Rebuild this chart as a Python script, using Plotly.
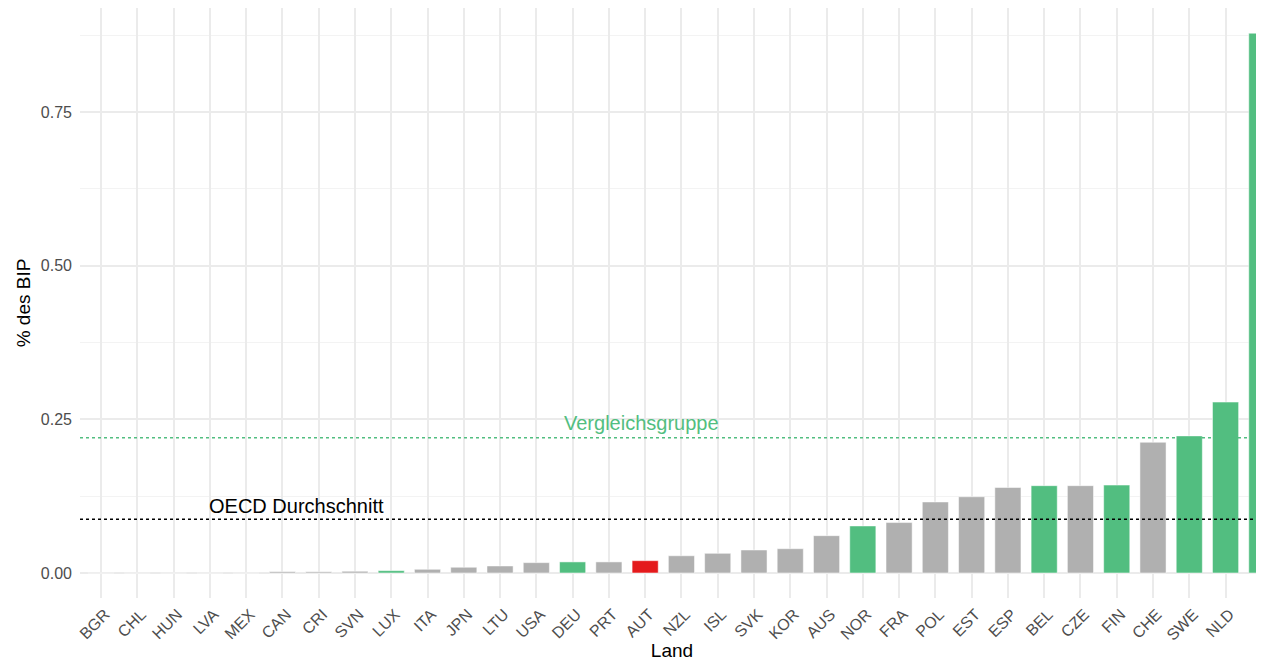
import plotly.graph_objects as go

countries = ["BGR","CHL","HUN","LVA","MEX","CAN","CRI","SVN","LUX","ITA","JPN","LTU","USA","DEU","PRT","AUT",
             "NZL","ISL","SVK","KOR","AUS","NOR","FRA","POL","EST","ESP","BEL","CZE","FIN","CHE","SWE","NLD","DNK"]
values = [0.0004,0.0004,0.0004,0.0004,0.0004,0.0022,0.002,0.0028,0.0038,0.006,0.0093,0.0114,0.0168,0.018,0.018,0.020,
          0.028,0.032,0.0374,0.0395,0.0607,0.0765,0.082,0.1155,0.124,0.139,0.142,0.142,0.143,0.2126,0.223,0.278,0.878]
groups = ["o","o","o","o","o","o","o","o","v","o","o","o","o","v","o","a",
          "o","o","o","o","o","v","o","o","o","o","v","o","v","o","v","v","v"]
oecd_avg = 0.0873
peer_avg = 0.220
y_ticks = [0.0, 0.25, 0.5, 0.75]
y_tick_labels = ["0.00", "0.25", "0.50", "0.75"]

color_map = {"o": "#B0B0B0", "v": "#52BE80", "a": "#E41A1C"}
colors = [color_map[g] for g in groups]

fig = go.Figure()
fig.add_trace(go.Bar(x=list(range(len(countries))), y=values, marker=dict(color=colors, line=dict(color="white", width=0.5)),
                     width=0.72, showlegend=False))

fig.add_hline(y=oecd_avg, line=dict(color="black", width=1.5, dash="dot"))
fig.add_hline(y=peer_avg, line=dict(color="#52BE80", width=1.5, dash="dot"))
fig.add_annotation(x=5.4, y=0.109, text="OECD Durchschnitt", showarrow=False,
                   font=dict(size=20, color="black"))
fig.add_annotation(x=14.9, y=0.244, text="Vergleichsgruppe", showarrow=False,
                   font=dict(size=20, color="#52BE80"))

fig.update_layout(
    autosize=False,
    width=1256, height=653,
    margin=dict(l=72, r=0, t=0, b=63),
    plot_bgcolor="white", paper_bgcolor="white",
    font=dict(family="Liberation Sans, Arial, sans-serif"),
)
fig.update_xaxes(
    range=[-0.58, 32.06], tickmode="array", tickvals=list(range(len(countries))), ticktext=countries,
    tickangle=-45, tickfont=dict(size=16, color="#4D4D4D"), ticklabelstandoff=3, ticklabelshift=4,
    showgrid=True, gridcolor="#EBEBEB", gridwidth=1.5, zeroline=False,
    title=dict(text="Land", font=dict(size=19, color="black"), standoff=13),
    ticks="", showline=False, automargin=False,
)
fig.update_yaxes(
    range=[-0.0407, 0.919], tickmode="array", tickvals=y_ticks, ticktext=y_tick_labels,
    tickfont=dict(size=16, color="#4D4D4D"), ticklabelstandoff=7,
    showgrid=True, gridcolor="#EBEBEB", gridwidth=1.5, zeroline=False,
    minor=dict(tickvals=[0.125, 0.375, 0.625, 0.875], showgrid=True, gridcolor="#F3F3F3", gridwidth=0.8),
    title=dict(text="% des BIP", font=dict(size=19, color="black"), standoff=5),
    ticks="", showline=False, automargin=False,
)

fig.write_html("out.html")
